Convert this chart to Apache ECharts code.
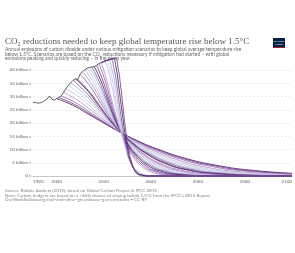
<!DOCTYPE html>
<html>
<head>
<meta charset="utf-8">
<script src="https://cdn.jsdelivr.net/npm/echarts@6/dist/echarts.min.js"></script>
<style>
html,body{margin:0;padding:0;background:#fff;}
#c{width:295px;height:253px;}
</style>
</head>
<body>
<div id="c"></div>
<script>
// ---- Data ----
const xTickLabels = [1990, 2000, 2020, 2040, 2060, 2080, 2100];
const yTickLabels = ['0 t', '5 billion t', '10 billion t', '15 billion t', '20 billion t', '25 billion t', '30 billion t', '35 billion t', '40 billion t'];

const historicalYears = [1990,1991,1992,1993,1994,1995,1996,1997,1998,1999,2000,2001,2002,2003,2004,2005,2006,2007,2008,2009,2010,2011,2012,2013,2014,2015,2016,2017,2018,2019];
const historicalValues = [27.6,27.8,27.5,27.6,27.9,28.5,29.1,30.2,29.0,28.6,29.2,29.6,30.2,31.6,33.0,34.2,35.2,36.1,36.7,36.4,38.4,39.4,40.1,40.7,41.0,41.1,41.3,41.8,42.4,42.8];

const scenarioStartYears = [2000,2001,2002,2003,2004,2005,2006,2007,2008,2009,2010,2011,2012,2013,2014,2015,2016,2017,2018,2019,2020,2021,2022,2023,2024,2025];

const scen2000 = [[2000,29.2],[2006.9,26.7],[2013.8,23.2],[2020.6,19.7],[2027.5,16.3],[2034.4,13.3],[2041.3,10.7],[2055,6.6],[2068.8,3.9],[2082.5,2.2],[2100,1.0]];
const scen2001 = [[2001,29.6],[2007.6,27.0],[2014.3,23.4],[2020.9,19.8],[2027.5,16.3],[2034.1,13.2],[2040.8,10.6],[2054,6.5],[2067.3,3.8],[2080.5,2.1],[2100,0.9]];
const scen2002 = [[2002,30.2],[2008.4,27.5],[2014.8,23.7],[2021.1,19.9],[2027.5,16.3],[2033.9,13.1],[2040.3,10.4],[2053,6.3],[2065.8,3.6],[2078.5,2.0],[2100,0.7]];
const scen2003 = [[2003,31.6],[2009.1,28.5],[2015.3,24.4],[2021.4,20.2],[2027.5,16.3],[2033.6,12.9],[2039.8,10.1],[2052,5.9],[2064.3,3.2],[2076.5,1.7],[2100,0.5]];
const scen2004 = [[2004,33.0],[2009.9,29.6],[2015.8,25.0],[2021.6,20.5],[2027.5,16.3],[2033.4,12.7],[2039.3,9.8],[2051,5.5],[2062.8,2.9],[2074.5,1.5],[2100,0.3]];
const scen2005 = [[2005,34.2],[2010.6,30.5],[2016.3,25.6],[2021.9,20.7],[2027.5,16.3],[2033.1,12.6],[2038.8,9.5],[2050,5.2],[2061.3,2.7],[2072.5,1.3],[2095,0.3],[2100,0.2]];
const scen2006 = [[2006,35.2],[2011.4,31.3],[2016.8,26.0],[2022.1,20.9],[2027.5,16.3],[2032.9,12.4],[2038.3,9.3],[2049,4.9],[2059.8,2.5],[2070.5,1.2],[2092,0.2],[2100,0.1]];
const scen2007 = [[2007,36.1],[2012.1,31.9],[2017.3,26.4],[2022.4,21.1],[2027.5,16.3],[2032.6,12.3],[2037.8,9.1],[2048,4.8],[2058.3,2.3],[2068.5,1.1],[2089,0.2],[2100,0.1]];
const scen2008 = [[2008,36.7],[2012.9,32.4],[2017.8,26.7],[2022.6,21.2],[2027.5,16.3],[2032.4,12.3],[2037.3,9.0],[2047,4.6],[2056.8,2.2],[2066.5,1.0],[2086,0.2],[2100,0.1]];
const scen2009 = [[2009,36.4],[2013.6,32.2],[2018.3,26.6],[2022.9,21.1],[2027.5,16.3],[2032.1,12.3],[2036.8,9.1],[2046,4.7],[2055.3,2.3],[2064.5,1.1],[2083,0.2],[2100,0.1]];
const scen2010 = [[2010,38.4],[2014.4,33.7],[2018.8,27.4],[2023.1,21.5],[2027.5,16.3],[2031.9,12.1],[2036.3,8.7],[2045,4.3],[2053.8,2.0],[2062.5,0.9],[2080,0.2],[2100,0]];
const scen2011 = [[2011,39.4],[2015.1,34.4],[2019.3,27.9],[2023.4,21.7],[2027.5,16.3],[2031.6,12.0],[2035.8,8.6],[2044,4.2],[2052.3,1.9],[2060.5,0.8],[2077,0.1],[2100,0]];
const scen2012 = [[2012,40.1],[2015.9,34.9],[2019.8,28.2],[2023.6,21.8],[2027.5,16.3],[2031.4,11.9],[2035.3,8.5],[2043,4.0],[2050.8,1.8],[2058.5,0.8],[2074,0.1],[2100,0]];
const scen2013 = [[2013,40.7],[2016.6,35.4],[2020.3,28.4],[2023.9,21.9],[2027.5,16.3],[2031.1,11.8],[2034.8,8.4],[2042,4.0],[2049.3,1.7],[2056.5,0.7],[2071,0.1],[2100,0]];
const scen2014 = [[2014,41.0],[2017.4,35.6],[2020.8,28.6],[2024.1,21.9],[2027.5,16.3],[2030.9,11.8],[2034.3,8.3],[2041,3.9],[2047.8,1.7],[2054.5,0.7],[2068,0.1],[2100,0]];
const scen2015 = [[2015,41.1],[2018.1,35.7],[2021.3,28.6],[2024.4,22.0],[2027.5,16.3],[2030.6,11.8],[2033.8,8.3],[2040,3.9],[2046.3,1.7],[2052.5,0.7],[2065,0.1],[2100,0]];
const scen2016 = [[2016,41.3],[2018.9,35.8],[2021.8,28.7],[2024.6,22.0],[2027.5,16.3],[2030.4,11.8],[2033.3,8.3],[2039,3.9],[2044.8,1.7],[2050.5,0.7],[2062,0.1],[2100,0]];
const scen2017 = [[2017,41.8],[2019.6,36.2],[2022.3,28.9],[2024.9,22.1],[2027.5,16.3],[2030.1,11.7],[2032.8,8.2],[2038,3.8],[2043.3,1.6],[2048.5,0.7],[2059,0.1],[2100,0]];
const scen2018 = [[2018,42.4],[2020.4,36.6],[2022.8,29.1],[2025.1,22.2],[2027.5,16.3],[2029.9,11.7],[2032.3,8.1],[2037,3.7],[2041.8,1.6],[2046.5,0.6],[2056,0.1],[2100,0]];
const scen2019 = [[2019,42.8],[2021.1,36.9],[2023.3,29.3],[2025.4,22.2],[2027.5,16.3],[2029.6,11.6],[2031.8,8.1],[2036,3.7],[2040.3,1.5],[2044.5,0.6],[2053,0.1],[2100,0]];
const scen2020 = [[2019,42.8],[2020,43.2],[2021.9,39.9],[2023.8,32.7],[2025.6,24.2],[2027.5,16.3],[2029.4,10.1],[2031.3,5.7],[2035,1.5],[2038.8,0.3],[2042.5,0],[2100,0]];
const scen2021 = [[2019,42.8],[2020,43.2],[2021,43.5],[2022.7,40.1],[2024.4,32.8],[2026.1,24.2],[2027.8,16.3],[2029.5,10.0],[2031.2,5.7],[2034.6,1.4],[2038,0.3],[2041.4,0],[2100,0]];
const scen2022 = [[2019,42.8],[2020,43.2],[2021,43.5],[2022,43.8],[2023.5,40.4],[2025.1,33.0],[2026.6,24.3],[2028.1,16.3],[2029.6,10.0],[2031.2,5.6],[2034.2,1.4],[2037.3,0.3],[2040.3,0],[2100,0]];
const scen2023 = [[2019,42.8],[2020,43.2],[2021,43.5],[2022,43.8],[2023,44.1],[2024.4,40.6],[2025.8,33.1],[2027.1,24.4],[2028.5,16.3],[2029.9,10.0],[2031.3,5.6],[2034,1.4],[2036.8,0.3],[2039.5,0],[2100,0]];
const scen2024 = [[2019,42.8],[2020,43.2],[2021,43.5],[2022,43.8],[2023,44.1],[2024,44.3],[2025.3,40.8],[2026.5,33.2],[2027.8,24.4],[2029,16.3],[2030.3,9.9],[2031.5,5.6],[2034,1.4],[2036.5,0.3],[2039,0],[2100,0]];
const scen2025 = [[2019,42.8],[2020,43.2],[2021,43.5],[2022,43.8],[2023,44.1],[2024,44.3],[2025,44.5],[2026.1,41.0],[2027.3,33.4],[2028.4,24.5],[2029.5,16.3],[2030.6,9.9],[2031.8,5.5],[2033.5,1.4],[2035.3,0.3],[2037,0],[2100,0]];

const scenarios = [scen2000,scen2001,scen2002,scen2003,scen2004,scen2005,scen2006,scen2007,scen2008,scen2009,scen2010,scen2011,scen2012,scen2013,scen2014,scen2015,scen2016,scen2017,scen2018,scen2019,scen2020,scen2021,scen2022,scen2023,scen2024,scen2025];

const palette = ['#3f1152','#6a2c85','#8d5cab','#a98cc4','#c6b6dc','#bcd0e6','#9fb0d4','#7b4f9e'];

// ---- Chart ----
const chart = echarts.init(document.getElementById('c'), null, {renderer:'canvas'});
const FONT = 'Lato, "Noto Sans", sans-serif';

const series = scenarios.map((d, i) => ({
  name: String(scenarioStartYears[i]),
  type: 'line',
  data: d,
  showSymbol: false,
  smooth: 0.5,
  clip: false,
  silent: true,
  lineStyle: {width: 0.8, color: palette[i % palette.length]}
}));
series.push({
  name: 'Historical',
  type: 'line',
  data: historicalYears.map((y, i) => [y, historicalValues[i]]),
  showSymbol: false,
  clip: false,
  silent: true,
  lineStyle: {width: 0.9, color: '#4d4d4d'}
});

chart.setOption({
  animation: false,
  grid: {left: 33, right: 1, top: 70, bottom: 77, containLabel: false},
  xAxis: {
    type: 'value', min: 1990, max: 2100, interval: 10,
    axisLine: {show: true, lineStyle: {color: '#aaa', width: 0.6}},
    axisTick: {show: false},
    splitLine: {show: false},
    axisLabel: {
      fontFamily: FONT, fontSize: 4.6, color: '#666', margin: 3,
      alignMinLabel: 'left', alignMaxLabel: 'right',
      formatter: v => xTickLabels.includes(v) ? String(v) : ''
    }
  },
  yAxis: {
    type: 'value', min: 0, max: 40, interval: 5,
    axisLine: {show: false},
    axisTick: {show: false},
    splitLine: {lineStyle: {color: '#ddd', width: 0.6, type: [2, 2]}},
    axisLabel: {
      fontFamily: FONT, fontSize: 4.6, color: '#666', margin: 2,
      formatter: v => yTickLabels[Math.round(v / 5)] || ''
    }
  },
  series: series,
  graphic: [
    {type: 'text', left: 5, top: 37, silent: true,
     style: {text: 'CO₂ reductions needed to keep global temperature rise below 1.5°C',
             font: '9px "Liberation Serif", serif', fill: '#555'}},
    {type: 'text', left: 5, top: 47, silent: true,
     style: {text: 'Annual emissions of carbon dioxide under various mitigation scenarios to keep global average temperature rise\nbelow 1.5°C. Scenarios are based on the CO₂ reductions necessary if mitigation had started – with global\nemissions peaking and quickly reducing – in the given year.',
             font: '4.9px Lato, sans-serif', fill: '#666', lineHeight: 4.5}},
    {type: 'text', left: 5, top: 188.5, silent: true,
     style: {text: 'Source: Robbie Andrew (2019); based on Global Carbon Project & IPCC SR15\nNote: Carbon budgets are based on a >66% chance of staying below 1.5°C from the IPCC\'s SR15 Report.\nOurWorldInData.org/co2-and-other-greenhouse-gas-emissions • CC BY',
             font: '4.5px Lato, sans-serif', fill: '#858585', lineHeight: 4.4}},
    {type: 'group', left: 273, top: 38, silent: true, children: [
      {type: 'rect', shape: {x: 0, y: 0, width: 12, height: 10}, style: {fill: '#002147'}},
      {type: 'rect', shape: {x: 0, y: 9.2, width: 12, height: 0.8}, style: {fill: '#ce261e'}},
      {type: 'text', x: 6, y: 2.2, style: {text: 'Our World\nin Data', font: '2.3px Lato, sans-serif', fill: '#fff', align: 'center', lineHeight: 2.6}}
    ]}
  ]
});
</script>
</body>
</html>
